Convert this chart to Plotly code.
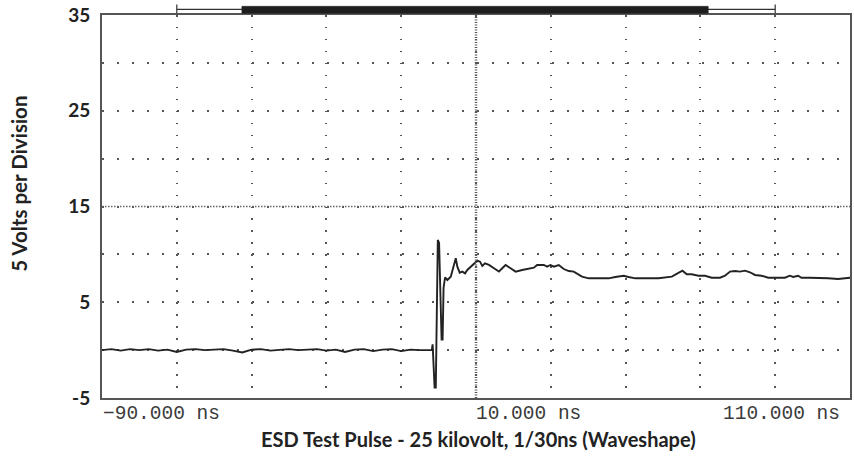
import plotly.graph_objects as go

# ---- data ----
time_ns = [
    -90, -87.5, -85, -82.5, -80, -77.5, -75, -72.5, -70, -67.5, -65, -62.5,
    -60, -57.5, -55, -52.5, -50, -47.5, -45, -42.5, -40, -37.5, -35, -32.5,
    -30, -27.5, -25, -22.5, -20, -17.5, -15, -12.5, -10, -7.5, -5, -2.5,
    -1.81, -1.6, -1.39, -1.07, -0.75, -0.53, -0.21, 0.13, 0.4, 0.8, 1.07, 1.33,
    1.73, 2.35, 3.25, 3.68, 4.13, 4.59, 5.01, 5.65, 6.35, 7.07, 7.68, 8.59,
    9.47, 10.35, 11.07, 11.68, 12.4, 13.47, 14.8, 16.13, 17.01, 17.92, 19.25, 20.59,
    22.35, 24.13, 25.47, 26.35, 28.13, 29.01, 29.92, 30.8, 32.13, 33.47, 34.8, 36.13,
    37.01, 38.35, 40.13, 42.8, 45.47, 47.25, 49.47, 50.8, 52.59, 55.25, 58.8, 62.35,
    64.13, 65.2, 66.35, 67.68, 69.47, 71.25, 73.01, 75.25, 76.59, 77.92, 79.25, 80.59,
    81.92, 83.25, 84.59, 86.35, 88.13, 90.35, 92.59, 93.92, 94.8, 96.13, 97.01, 99.25,
    101.47, 104.13, 106.8, 109.47, 110,
]
volts = [
    0.0, 0.1, -0.05, 0.1, 0.0, 0.1, -0.05, 0.05, -0.2, 0.05, 0.1, 0.0,
    0.05, 0.1, -0.05, -0.25, 0.05, 0.1, -0.05, 0.05, 0.1, 0.0, 0.05, 0.1,
    -0.05, 0.05, -0.2, 0.05, 0.1, -0.1, 0.05, 0.1, -0.1, 0.05, 0.0, 0.05,
    0.0, 0.6, -2.2, -3.9, -3.9, 6.0, 11.5, 11.2, 5.5, 1.1, 1.1, 6.5,
    7.6, 7.32, 7.67, 8.37, 9.07, 9.59, 8.72, 8.09, 8.2, 8.02, 8.37, 8.72,
    9.07, 9.34, 9.24, 8.79, 9.07, 8.9, 8.55, 8.2, 8.55, 8.89, 8.55, 8.2,
    8.37, 8.47, 8.61, 8.89, 8.89, 8.72, 8.89, 8.72, 8.89, 8.47, 8.26, 8.2,
    8.02, 7.67, 7.5, 7.5, 7.5, 7.64, 7.77, 7.64, 7.5, 7.5, 7.5, 7.67,
    8.02, 8.3, 7.92, 7.92, 7.77, 7.77, 7.56, 7.56, 7.77, 8.2, 8.26, 8.2,
    8.3, 8.13, 7.85, 7.77, 7.56, 7.56, 7.56, 7.77, 7.64, 7.77, 7.56, 7.56,
    7.56, 7.5, 7.43, 7.56, 7.56,
]

x_grid = [-90, -70, -50, -30, -10, 10, 30, 50, 70, 90, 110]
y_grid = [-5, 0, 5, 10, 15, 20, 25, 30, 35]
y_text = ["-5", "", "5", "", "15", "", "25", "", "35"]
x_labels = ["\u221290.000 ns", "10.000 ns", "110.000 ns"]
x_label_pos = [-90, 10, 110]

x_title = "ESD Test Pulse - 25 kilovolt, 1/30ns (Waveshape)"
y_title = "5 Volts per Division"

# record / view indicator above the graticule (ns)
record_span = [-70, 90]
view_span = [-52.6, 72.1]

X_RANGE = [-90, 110]
Y_RANGE = [-5, 35]
CENTER_X = 10
CENTER_Y = 15

fig = go.Figure()
fig.add_trace(go.Scatter(
    x=time_ns, y=volts, mode="lines",
    line=dict(color="#222222", width=1.9),
    showlegend=False, hoverinfo="skip",
))

grid_col = "#555555"
fig.update_xaxes(
    range=X_RANGE, tickvals=x_grid, ticktext=[""] * len(x_grid),
    showgrid=True, gridcolor=grid_col, gridwidth=1.5, griddash="1.5px,10.47px",
    showline=True, mirror=True, linecolor="#555555", linewidth=2,
    ticks="", zeroline=False, fixedrange=True,
)
fig.update_yaxes(
    range=Y_RANGE, tickvals=y_grid, ticktext=y_text,
    showgrid=True, gridcolor=grid_col, gridwidth=1.5, griddash="1.5px,13.5px",
    showline=True, mirror=True, linecolor="#555555", linewidth=2,
    ticks="", zeroline=False, fixedrange=True,
    tickfont=dict(family="Lato, sans-serif", size=19, color="#222222", weight="bold"),
    ticklabelstandoff=6,
)

shapes = []
# center graticule lines
shapes.append(dict(type="line", xref="x", yref="y", x0=CENTER_X, x1=CENTER_X,
                   y0=Y_RANGE[0], y1=Y_RANGE[1],
                   line=dict(color="#555555", width=2.5, dash="1px,1.5px")))
shapes.append(dict(type="line", xref="x", yref="y", x0=X_RANGE[0], x1=X_RANGE[1],
                   y0=CENTER_Y, y1=CENTER_Y,
                   line=dict(color="#666666", width=1.5, dash="1.5px,1.5px")))
# indicator above plot
thin_y = 1.0149
shapes.append(dict(type="line", xref="x", yref="paper", x0=record_span[0], x1=record_span[1],
                   y0=thin_y, y1=thin_y, line=dict(color="#333333", width=1.2)))
for xv in record_span:
    shapes.append(dict(type="line", xref="x", yref="paper", x0=xv, x1=xv,
                       y0=1.0044, y1=1.0271, line=dict(color="#333333", width=1.2)))
shapes.append(dict(type="rect", xref="x", yref="paper", x0=view_span[0], x1=view_span[1],
                   y0=1.0044, y1=1.0227, fillcolor="#1e1e1e",
                   line=dict(color="#1e1e1e", width=0.5)))

annotations = []
anchors = ["left", "left", "right"]
xshifts = [-1, -2, -8]
for txt, xv, anc, xs in zip(x_labels, x_label_pos, anchors, xshifts):
    annotations.append(dict(text=txt, x=xv, xref="x", y=-0.042, yref="paper",
                            xanchor=anc, yanchor="middle", showarrow=False, xshift=xs,
                            font=dict(family="Liberation Mono, monospace", size=19.5, color="#3a3a3a")))
annotations.append(dict(text=x_title, x=0.503, xref="paper", y=-0.107, yref="paper",
                        xanchor="center", yanchor="middle", showarrow=False,
                        font=dict(family="Lato, sans-serif", size=20, color="#222222", weight="bold")))
annotations.append(dict(text=y_title, x=-0.112, xref="paper", y=0.56, yref="paper",
                        xanchor="center", yanchor="middle", showarrow=False, textangle=-90,
                        font=dict(family="Lato, sans-serif", size=20.5, color="#222222", weight="bold")))

fig.update_layout(
    width=854, height=458,
    margin=dict(l=102, r=2, t=15, b=60),
    paper_bgcolor="white", plot_bgcolor="white",
    shapes=shapes, annotations=annotations,
    showlegend=False,
)

fig.write_html("out.html", config={"displayModeBar": False},
               post_script="document.body.style.margin='0';document.body.style.padding='0';")
